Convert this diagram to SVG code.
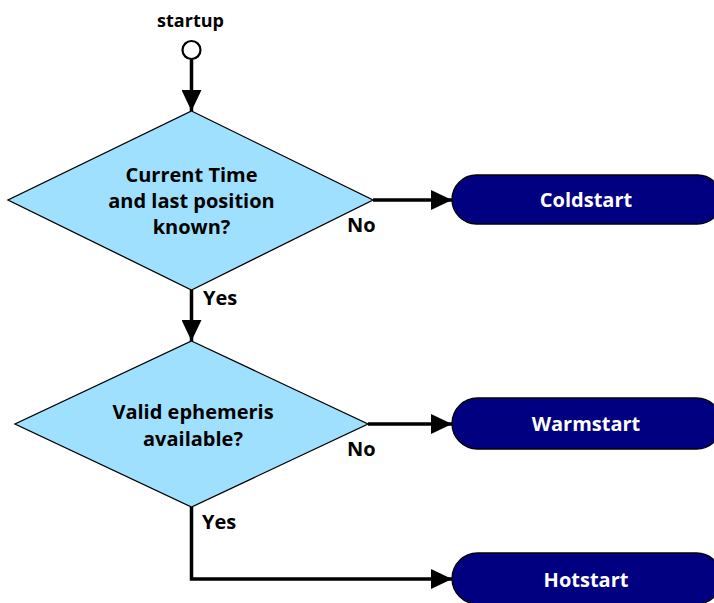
<svg xmlns="http://www.w3.org/2000/svg" width="714" height="603" viewBox="0 0 714 603">
<style>
text{font-family:"Open Sans","DejaVu Sans",sans-serif;font-weight:700;font-size:20px;fill:#000}
.c{text-anchor:middle}
.w{fill:#fff}
.dia{fill:#a0e0ff;stroke:#000;stroke-width:1.3}
.term{fill:#000080;stroke:#000;stroke-width:1.3}
.con{fill:none;stroke:#000;stroke-width:3.5}
</style>
<defs>
<marker id="arr" markerUnits="userSpaceOnUse" markerWidth="22" markerHeight="20" refX="21" refY="10" orient="auto">
<path d="M0,0 L21,10 L0,20 z" fill="#000"/>
</marker>
</defs>
<rect width="714" height="603" fill="#fff"/>
<g id="connectors">
<line class="con" x1="191.5" y1="59" x2="191.5" y2="111" marker-end="url(#arr)"/>
<line class="con" x1="191.5" y1="290" x2="191.5" y2="341" marker-end="url(#arr)"/>
<line class="con" x1="373" y1="200" x2="452" y2="200" marker-end="url(#arr)"/>
<line class="con" x1="368" y1="424" x2="452" y2="424" marker-end="url(#arr)"/>
<polyline class="con" points="191.5,507 191.5,579 452,579" marker-end="url(#arr)"/>
</g>
<g id="startup">
<text class="c" x="190.5" y="27" style="font-size:18px">startup</text>
<circle cx="191.5" cy="50" r="9" fill="#fff" stroke="#000" stroke-width="2.2"/>
</g>
<g id="decision1">
<polygon class="dia" points="191.5,111 373,200 191.5,290 8,200"/>
<text class="c" x="191.5" y="182">Current Time</text>
<text class="c" x="191.5" y="208">and last position</text>
<text class="c" x="191.5" y="234">known?</text>
</g>
<g id="decision2">
<polygon class="dia" points="191.5,341 368,424 191.5,507 15,424"/>
<text class="c" x="193" y="419">Valid ephemeris</text>
<text class="c" x="193" y="446">available?</text>
</g>
<g id="coldstart">
<rect class="term" x="452" y="175" width="270" height="49" rx="24.5"/>
<text class="c w" x="586" y="206.5">Coldstart</text>
</g>
<g id="warmstart">
<rect class="term" x="452" y="398" width="270" height="51" rx="25.5"/>
<text class="c w" x="586" y="430.5">Warmstart</text>
</g>
<g id="hotstart">
<rect class="term" x="452" y="553" width="270" height="51" rx="25.5"/>
<text class="c w" x="586" y="586.5">Hotstart</text>
</g>
<g id="labels">
<text x="347" y="232">No</text>
<text x="347" y="456">No</text>
<text x="203" y="305">Yes</text>
<text x="202" y="529">Yes</text>
</g>
</svg>
